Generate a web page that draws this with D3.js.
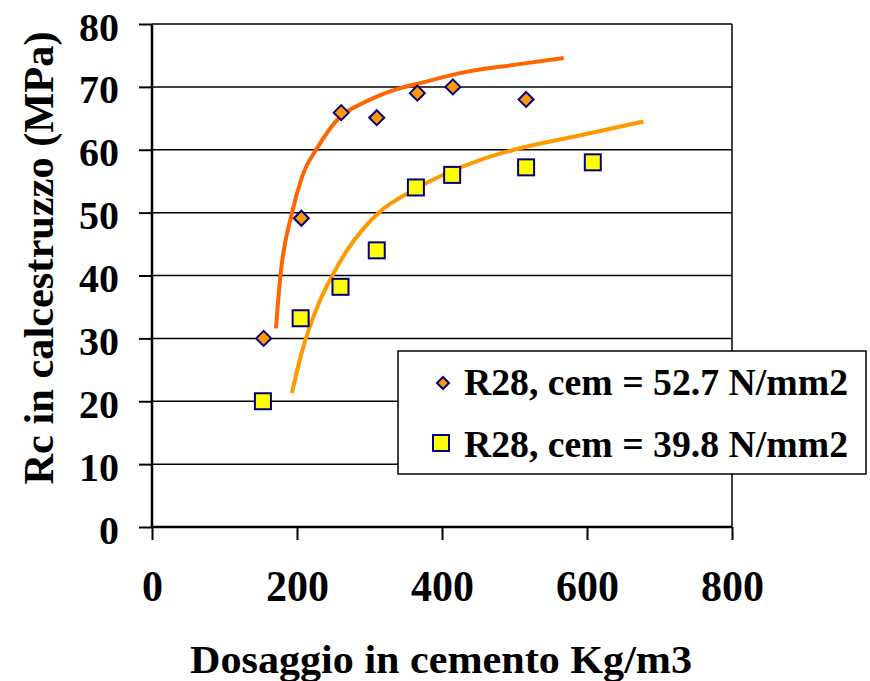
<!DOCTYPE html>
<html>
<head>
<meta charset="utf-8">
<script src="https://cdn.jsdelivr.net/npm/d3@7"></script>
<style>
  html, body { margin: 0; padding: 0; background: #fff; }
  svg { display: block; }
</style>
</head>
<body>
<script>
// Measured points: cement dosage (kg/m3) vs 28-day concrete strength (MPa)
const doseA = [154, 206, 261, 310, 366, 415, 516];
const rcA   = [30, 49.1, 65.9, 65.1, 69, 70, 68];
const doseB = [153, 205, 260, 310, 364, 414, 516, 608];
const rcB   = [20, 33.2, 38.2, 44, 54, 56, 57.2, 58];

// Fitted trend curves, sampled along the curve
const trendAx = [171, 177, 193, 207, 228, 260, 287, 315, 343, 370, 430, 499, 568];
const trendAy = [31.6, 39.8, 49.9, 55.7, 60.3, 65.3, 67.2, 68.7, 69.8, 70.6, 72.3, 73.5, 74.6];
const trendBx = [193, 205, 216, 232, 248, 269, 292, 315, 361, 407, 453, 499, 591, 678];
const trendBy = [21.3, 27.1, 31.3, 36.1, 39.8, 44.0, 47.5, 50.2, 53.6, 56.3, 58.4, 60.0, 62.3, 64.5];

const xTicks = [0, 200, 400, 600, 800];
const yTicks = [0, 10, 20, 30, 40, 50, 60, 70, 80];
const legendLabels = ["R28, cem = 52.7 N/mm2", "R28, cem = 39.8 N/mm2"];
const xTitle = "Dosaggio in cemento Kg/m3";
const yTitle = "Rc in calcestruzzo (MPa)";

// Pick the first installed serif face from a preference list (with its cap-height ratio)
function pickFont(cands) {
  const ctx = document.createElement("canvas").getContext("2d");
  const probe = "Dosaggio in cemento 0123456789 RMPa";
  const widthWith = f => { ctx.font = `bold 40px ${f}`; return ctx.measureText(probe).width; };
  const baseMono = widthWith("monospace"), baseSans = widthWith("sans-serif");
  for (const c of cands) {
    const f = `"${c.name}"`;
    if (widthWith(`${f}, monospace`) !== baseMono || widthWith(`${f}, sans-serif`) !== baseSans) return c;
  }
  return { name: "serif", cap: 0.72 };
}
const face = pickFont([
  { name: "Liberation Serif", cap: 0.66 },
  { name: "Times New Roman", cap: 0.66 },
  { name: "Tinos", cap: 0.66 },
  { name: "Nimbus Roman", cap: 0.66 },
  { name: "DejaVu Serif Condensed", cap: 0.73 },
  { name: "DejaVu Serif", cap: 0.73 }
]);
const FONT = (face.name === "serif" ? "serif" : `"${face.name}", serif`);
const sizeForCap = capPx => +(capPx / face.cap).toFixed(2);

const W = 870, H = 681;
const plot = { left: 152, right: 732, top: 24, bottom: 527 };

const svg = d3.select("body").append("svg").attr("width", W).attr("height", H)
  .style("font-family", FONT).style("font-weight", "bold");

// Stretch a text run to an exact width
function fitWidth(sel, target) {
  sel.attr("textLength", typeof target === "function" ? target : () => target)
     .attr("lengthAdjust", "spacingAndGlyphs");
}

const x = d3.scaleLinear().domain([0, 800]).range([plot.left, plot.right]);
const y = d3.scaleLinear().domain([0, 80]).range([plot.bottom, plot.top]);

// Horizontal gridlines
svg.append("g").selectAll("line").data(yTicks.filter(d => d > 0)).join("line")
  .attr("x1", plot.left).attr("x2", plot.right)
  .attr("y1", d => y(d)).attr("y2", d => y(d))
  .attr("stroke", "#000").attr("stroke-width", 1.5);

// Right border of the plot area
svg.append("line")
  .attr("x1", plot.right).attr("x2", plot.right)
  .attr("y1", plot.top).attr("y2", plot.bottom)
  .attr("stroke", "#000").attr("stroke-width", 1.5);

// Trend curves
const line = d3.line().x(d => x(d[0])).y(d => y(d[1])).curve(d3.curveMonotoneX);
svg.append("path").datum(d3.zip(trendAx, trendAy))
  .attr("d", line).attr("fill", "none").attr("stroke", "#FF6600").attr("stroke-width", 4);
svg.append("path").datum(d3.zip(trendBx, trendBy))
  .attr("d", line).attr("fill", "none").attr("stroke", "#FF9900").attr("stroke-width", 4);

// Axes
const yAxis = d3.axisLeft(y).tickValues(yTicks).tickSize(13).tickPadding(20).tickFormat(d3.format("d"));
const gy = svg.append("g").attr("transform", `translate(${plot.left},0)`).call(yAxis)
  .attr("font-family", null).attr("font-size", null);
gy.select(".domain").attr("stroke-width", 2.5).attr("d", `M0,${plot.top}V${plot.bottom}`);
gy.selectAll(".tick line").attr("stroke-width", 2);
gy.selectAll(".tick text").attr("font-size", sizeForCap(27)).attr("dy", 0).attr("y", 16).attr("fill", "#000")
  .call(fitWidth, d => String(d).length * 20);

const xAxis = d3.axisBottom(x).tickValues(xTicks).tickSize(13).tickPadding(0).tickFormat(d3.format("d"));
const gx = svg.append("g").attr("transform", `translate(0,${plot.bottom})`).call(xAxis)
  .attr("font-family", null).attr("font-size", null);
gx.select(".domain").attr("stroke-width", 2.5).attr("d", `M${plot.left},0H${plot.right}`);
gx.selectAll(".tick line").attr("stroke-width", 2);
gx.selectAll(".tick text").attr("font-size", sizeForCap(29)).attr("y", 74).attr("dy", 0).attr("fill", "#000")
  .call(fitWidth, d => String(d).length * 21);

// Markers: series A diamonds, series B squares
const diamond = s => `M0,${-s}L${s},0L0,${s}L${-s},0Z`;
svg.append("g").selectAll("path").data(d3.zip(doseA, rcA)).join("path")
  .attr("transform", d => `translate(${x(d[0])},${y(d[1])})`)
  .attr("d", diamond(7.5))
  .attr("fill", "#FF9900").attr("stroke", "#000080").attr("stroke-width", 2);
svg.append("g").selectAll("rect").data(d3.zip(doseB, rcB)).join("rect")
  .attr("x", d => x(d[0]) - 8).attr("y", d => y(d[1]) - 8)
  .attr("width", 16).attr("height", 16)
  .attr("fill", "#FFFF00").attr("stroke", "#000080").attr("stroke-width", 2);

// Axis titles
svg.append("text").attr("x", 441).attr("y", 673).attr("text-anchor", "middle")
  .attr("font-size", sizeForCap(27)).attr("fill", "#000").text(xTitle).call(fitWidth, 502);
svg.append("text").attr("transform", "translate(53,258) rotate(-90)").attr("text-anchor", "middle")
  .attr("font-size", sizeForCap(27.5)).attr("fill", "#000").text(yTitle).call(fitWidth, 453);

// Legend
const lg = svg.append("g");
lg.append("rect").attr("x", 398).attr("y", 351).attr("width", 468).attr("height", 123)
  .attr("fill", "#fff").attr("stroke", "#000").attr("stroke-width", 1.5);
lg.append("path").attr("transform", "translate(443,383)").attr("d", diamond(6))
  .attr("fill", "#FF9900").attr("stroke", "#000080").attr("stroke-width", 2);
lg.append("rect").attr("x", 433).attr("y", 435).attr("width", 16).attr("height", 16)
  .attr("fill", "#FFFF00").attr("stroke", "#000080").attr("stroke-width", 2);
lg.selectAll("text").data(legendLabels).join("text")
  .attr("x", 464).attr("y", (d, i) => 395 + i * 62)
  .attr("font-size", sizeForCap(25.5)).attr("fill", "#000").text(d => d).call(fitWidth, 384);
</script>
</body>
</html>
